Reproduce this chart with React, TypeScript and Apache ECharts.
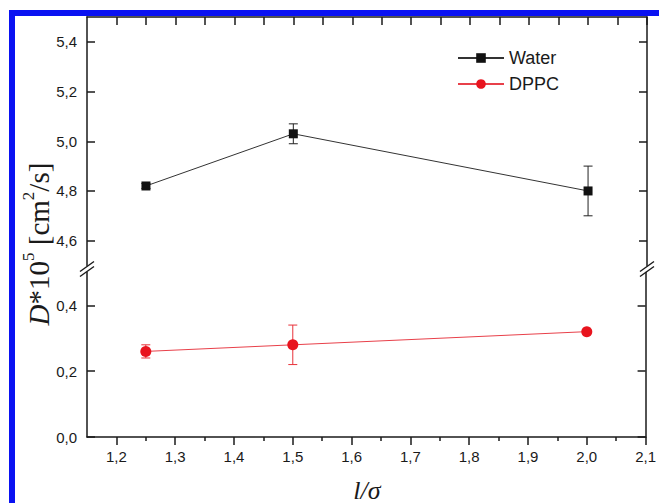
import { useEffect, useRef } from 'react';
import * as echarts from 'echarts';

const xMajor = [1.2, 1.3, 1.4, 1.5, 1.6, 1.7, 1.8, 1.9, 2.0, 2.1];
const xMinor = [1.25, 1.35, 1.45, 1.55, 1.65, 1.75, 1.85, 1.95, 2.05];
const upperTicks = [4.6, 4.8, 5.0, 5.2, 5.4];
const lowerTicks = [0, 0.2, 0.4];

const waterX = [1.25, 1.5, 2.0];
const waterY = [4.82, 5.03, 4.8];
const waterErr = [0.01, 0.04, 0.1];

const dppcX = [1.25, 1.5, 2.0];
const dppcY = [0.26, 0.28, 0.32];
const dppcErr = [0.02, 0.06, 0.005];

const GL = 87, GR = 647, UT = 17, UB = 265.5, LT = 272.4, LB = 437;
const AXC = '#1a1a1a';
const FONT = 'Liberation Sans, Arial, sans-serif';
const SERIF = 'Liberation Serif, Times New Roman, serif';

const fmt = (v: number) => v.toFixed(1).replace('.', ',');

function errSeries(name: string, xs: number[], ys: number[], es: number[], color: string, xi: number, yi: number) {
  return {
    type: 'custom',
    name,
    xAxisIndex: xi,
    yAxisIndex: yi,
    z: 1,
    data: xs.map((x, i) => [x, ys[i] - es[i], ys[i] + es[i]]),
    renderItem: (params: any, api: any) => {
      const x = api.value(0);
      const lo = api.coord([x, api.value(1)]);
      const hi = api.coord([x, api.value(2)]);
      const w = 4.5;
      const st = { stroke: color, lineWidth: 1 };
      return {
        type: 'group',
        children: [
          { type: 'line', shape: { x1: lo[0], y1: lo[1], x2: hi[0], y2: hi[1] }, style: st },
          { type: 'line', shape: { x1: lo[0] - w, y1: lo[1], x2: lo[0] + w, y2: lo[1] }, style: st },
          { type: 'line', shape: { x1: hi[0] - w, y1: hi[1], x2: hi[0] + w, y2: hi[1] }, style: st },
        ],
      };
    },
  };
}

function xAxisDef(grid: number, pos: string, values: number[], len: number, inside: boolean, showLine: boolean, labels: boolean) {
  return {
    type: 'value',
    gridIndex: grid,
    position: pos,
    min: 1.15,
    max: 2.1,
    axisLine: { show: showLine, onZero: false, lineStyle: { color: AXC, width: 1.5 } },
    axisTick: { show: true, inside, length: len, customValues: values, lineStyle: { color: AXC, width: 1.5 } },
    axisLabel: labels
      ? { show: true, customValues: values, formatter: fmt, color: '#1a1a1a', fontFamily: FONT, fontSize: 15, margin: 12 }
      : { show: false },
    splitLine: { show: false },
  };
}

function yAxisDef(grid: number, pos: string, min: number, max: number, values: number[], labels: boolean) {
  return {
    type: 'value',
    gridIndex: grid,
    position: pos,
    min,
    max,
    axisLine: { show: true, onZero: false, lineStyle: { color: AXC, width: 1.5 } },
    axisTick: { show: true, inside: true, length: 8, customValues: values, lineStyle: { color: AXC, width: 1.5 } },
    axisLabel: labels
      ? { show: true, customValues: values, formatter: fmt, color: '#1a1a1a', fontFamily: FONT, fontSize: 15, margin: 10 }
      : { show: false },
    splitLine: { show: false },
  };
}

function breakMarks(x: number, y: number) {
  return [-2.5, 2.5].map((d) => ({
    type: 'line',
    shape: { x1: x - 7, y1: y + d + 5, x2: x + 7, y2: y + d - 5 },
    style: { stroke: AXC, lineWidth: 1.4 },
    z: 100,
  }));
}

export default function App() {
  const ref = useRef<HTMLDivElement>(null);
  useEffect(() => {
    if (!ref.current) return;
    const chart = echarts.init(ref.current, null, { renderer: 'svg' });
    const by = (UB + LT) / 2;
    chart.setOption({
      animation: false,
      backgroundColor: '#fff',
      grid: [
        { left: GL, right: 659 - GR, top: UT, height: UB - UT },
        { left: GL, right: 659 - GR, top: LT, height: LB - LT },
      ],
      xAxis: [
        xAxisDef(0, 'top', xMajor, 8, true, true, false),
        xAxisDef(0, 'top', xMinor, 8, true, false, false),
        xAxisDef(1, 'bottom', xMajor, 8, false, true, true),
        xAxisDef(1, 'bottom', xMinor, 4, false, false, false),
      ],
      yAxis: [
        yAxisDef(0, 'left', 4.5, 5.5, upperTicks, true),
        yAxisDef(0, 'right', 4.5, 5.5, upperTicks, false),
        yAxisDef(1, 'left', 0, 0.5, lowerTicks, true),
        yAxisDef(1, 'right', 0, 0.5, lowerTicks, false),
      ],
      legend: {
        orient: 'vertical',
        left: 452,
        top: 44,
        itemWidth: 46,
        itemHeight: 12,
        itemGap: 8,
        data: ['Water', 'DPPC'],
        textStyle: { fontFamily: FONT, fontSize: 18, color: '#1a1a1a' },
      },
      series: [
        errSeries('WaterErr', waterX, waterY, waterErr, '#222', 0, 0),
        {
          type: 'line',
          name: 'Water',
          xAxisIndex: 0,
          yAxisIndex: 0,
          z: 3,
          data: waterX.map((x, i) => [x, waterY[i]]),
          symbol: 'rect',
          symbolSize: 9,
          itemStyle: { color: '#111' },
          lineStyle: { color: '#333', width: 1 },
        },
        errSeries('DPPCErr', dppcX, dppcY, dppcErr, '#e8323a', 2, 2),
        {
          type: 'line',
          name: 'DPPC',
          xAxisIndex: 2,
          yAxisIndex: 2,
          z: 3,
          data: dppcX.map((x, i) => [x, dppcY[i]]),
          symbol: 'circle',
          symbolSize: 11,
          itemStyle: { color: '#e8141e' },
          lineStyle: { color: '#e8404a', width: 1 },
        },
      ],
      graphic: [
        {
          type: 'rect',
          shape: { x: 12, y: 13, width: 720, height: 620 },
          style: { fill: 'none', stroke: '#0a12f2', lineWidth: 6 },
          z: 200,
        },
        ...breakMarks(GL, by),
        ...breakMarks(GR, by),
        {
          type: 'text',
          x: 39,
          y: 244,
          rotation: Math.PI / 2,
          style: {
            text: '{i|D}{n|*10}{s|5}{n| [cm}{s|2}{n|/s]}',
            align: 'center',
            verticalAlign: 'middle',
            fill: '#1a1a1a',
            rich: {
              i: { fontFamily: SERIF, fontStyle: 'italic', fontSize: 29, lineHeight: 38, fill: '#1a1a1a' },
              n: { fontFamily: SERIF, fontSize: 29, lineHeight: 38, fill: '#1a1a1a' },
              s: { fontFamily: SERIF, fontSize: 17, lineHeight: 18, verticalAlign: 'top', fill: '#1a1a1a' },
            },
          },
        },
        {
          type: 'text',
          x: (GL + GR) / 2,
          y: 490,
          style: {
            text: 'l/σ',
            align: 'center',
            verticalAlign: 'middle',
            fontFamily: SERIF,
            fontStyle: 'italic',
            fontSize: 26,
            fill: '#1a1a1a',
          },
        },
      ],
    });
    return () => chart.dispose();
  }, []);
  return <div ref={ref} style={{ position: 'absolute', left: 0, top: 0, width: 659, height: 503 }} />;
}
